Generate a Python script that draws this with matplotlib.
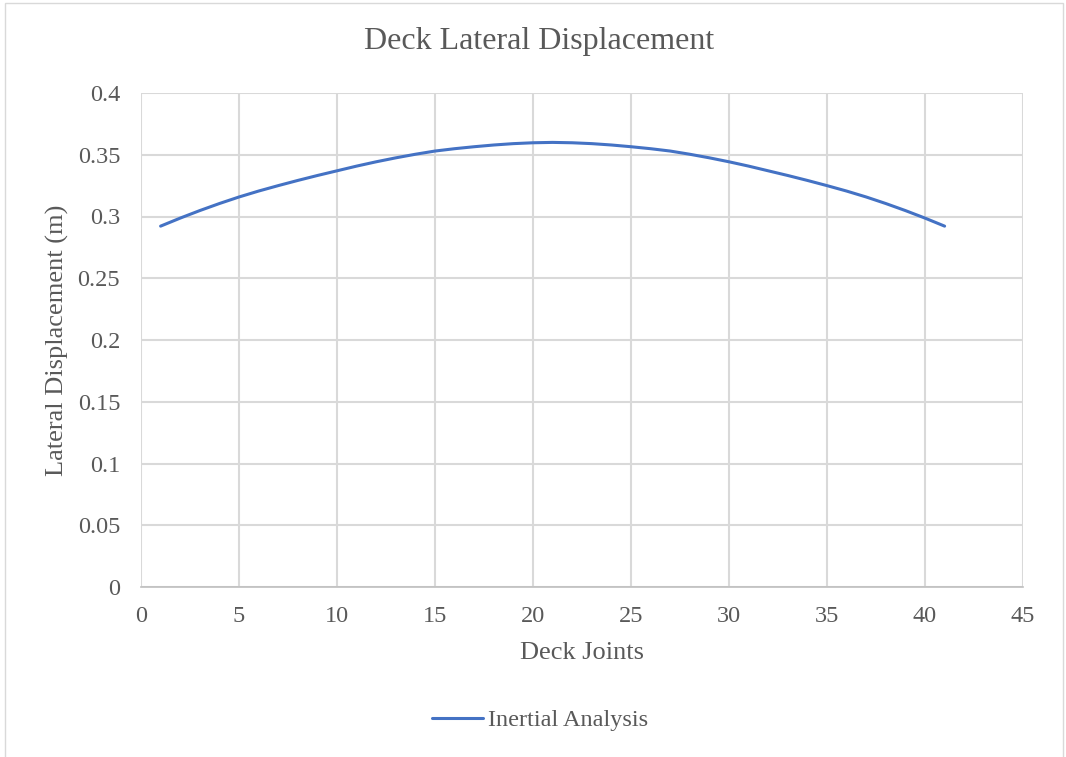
import matplotlib
matplotlib.use("Agg")
import matplotlib.pyplot as plt
from matplotlib.patches import Rectangle

# Deck joint numbers and lateral displacement (m)
joints = list(range(1, 42))
disp = [
    0.2922, 0.2987, 0.3048, 0.3105, 0.3158, 0.3206, 0.3250, 0.3292, 0.3332, 0.3370,
    0.3408, 0.3443, 0.3475, 0.3504, 0.3530, 0.3549, 0.3565, 0.3579, 0.3590, 0.3597,
    0.3600,
    0.3597, 0.3590, 0.3579, 0.3565, 0.3549, 0.3530, 0.3504, 0.3475, 0.3443, 0.3408,
    0.3370, 0.3332, 0.3292, 0.3250, 0.3206, 0.3158, 0.3105, 0.3048, 0.2987, 0.2922,
]
x_ticks = [0, 5, 10, 15, 20, 25, 30, 35, 40, 45]
y_ticks = [0, 0.05, 0.1, 0.15, 0.2, 0.25, 0.3, 0.35, 0.4]
y_tick_labels = ["0", "0.05", "0.1", "0.15", "0.2", "0.25", "0.3", "0.35", "0.4"]

plt.rcParams["font.family"] = ["Liberation Serif", "DejaVu Serif"]
TXT = "#595959"
GRID = "#d9d9d9"
W, H = 1066, 757

fig = plt.figure(figsize=(W / 100, H / 100), dpi=100)
# light outer chart border (runs off the bottom edge, as in the reference)
fig.patches.append(Rectangle((5 / W, -0.05), 1058 / W, 1.05 - 3 / H,
                             transform=fig.transFigure, fill=False,
                             edgecolor=GRID, lw=1.0))
ax = fig.add_axes([141 / W, 170 / H, 882 / W, 494 / H])

ax.plot(joints, disp, color="#4472c4", lw=2.2, label="Inertial Analysis",
        solid_capstyle="round")

ax.set_xlim(0, 45)
ax.set_ylim(0, 0.4)
ax.set_xticks(x_ticks)
ax.set_yticks(y_ticks, y_tick_labels)
ax.grid(True, color=GRID, lw=1.5)
ax.set_axisbelow(True)
for s in ["top", "right", "left"]:
    ax.spines[s].set_visible(False)
ax.spines["bottom"].set_color("#bfbfbf")
ax.spines["bottom"].set_linewidth(1.2)
ax.tick_params(axis="both", length=0, labelsize=17.5, colors=TXT)
ax.tick_params(axis="y", pad=15)
ax.tick_params(axis="x", pad=14)

fig.text(539 / W, 1 - 42 / H, "Deck Lateral Displacement", fontsize=23,
         color=TXT, ha="center", va="center")
ax.set_xlabel("Deck Joints", fontsize=19, color=TXT, va="center")
ax.xaxis.set_label_coords(582 / W, 1 - 653 / H, transform=fig.transFigure)
ax.set_ylabel("Lateral Displacement (m)", fontsize=19, color=TXT, va="center")
ax.yaxis.set_label_coords(57 / W, 1 - 340 / H, transform=fig.transFigure)

leg = fig.legend(loc="center", bbox_to_anchor=(540 / W, 1 - 720 / H),
                 frameon=False, fontsize=17.5, handlelength=2.1,
                 handletextpad=0.2)
for t in leg.get_texts():
    t.set_color(TXT)

fig.savefig("out.png", dpi=100)
